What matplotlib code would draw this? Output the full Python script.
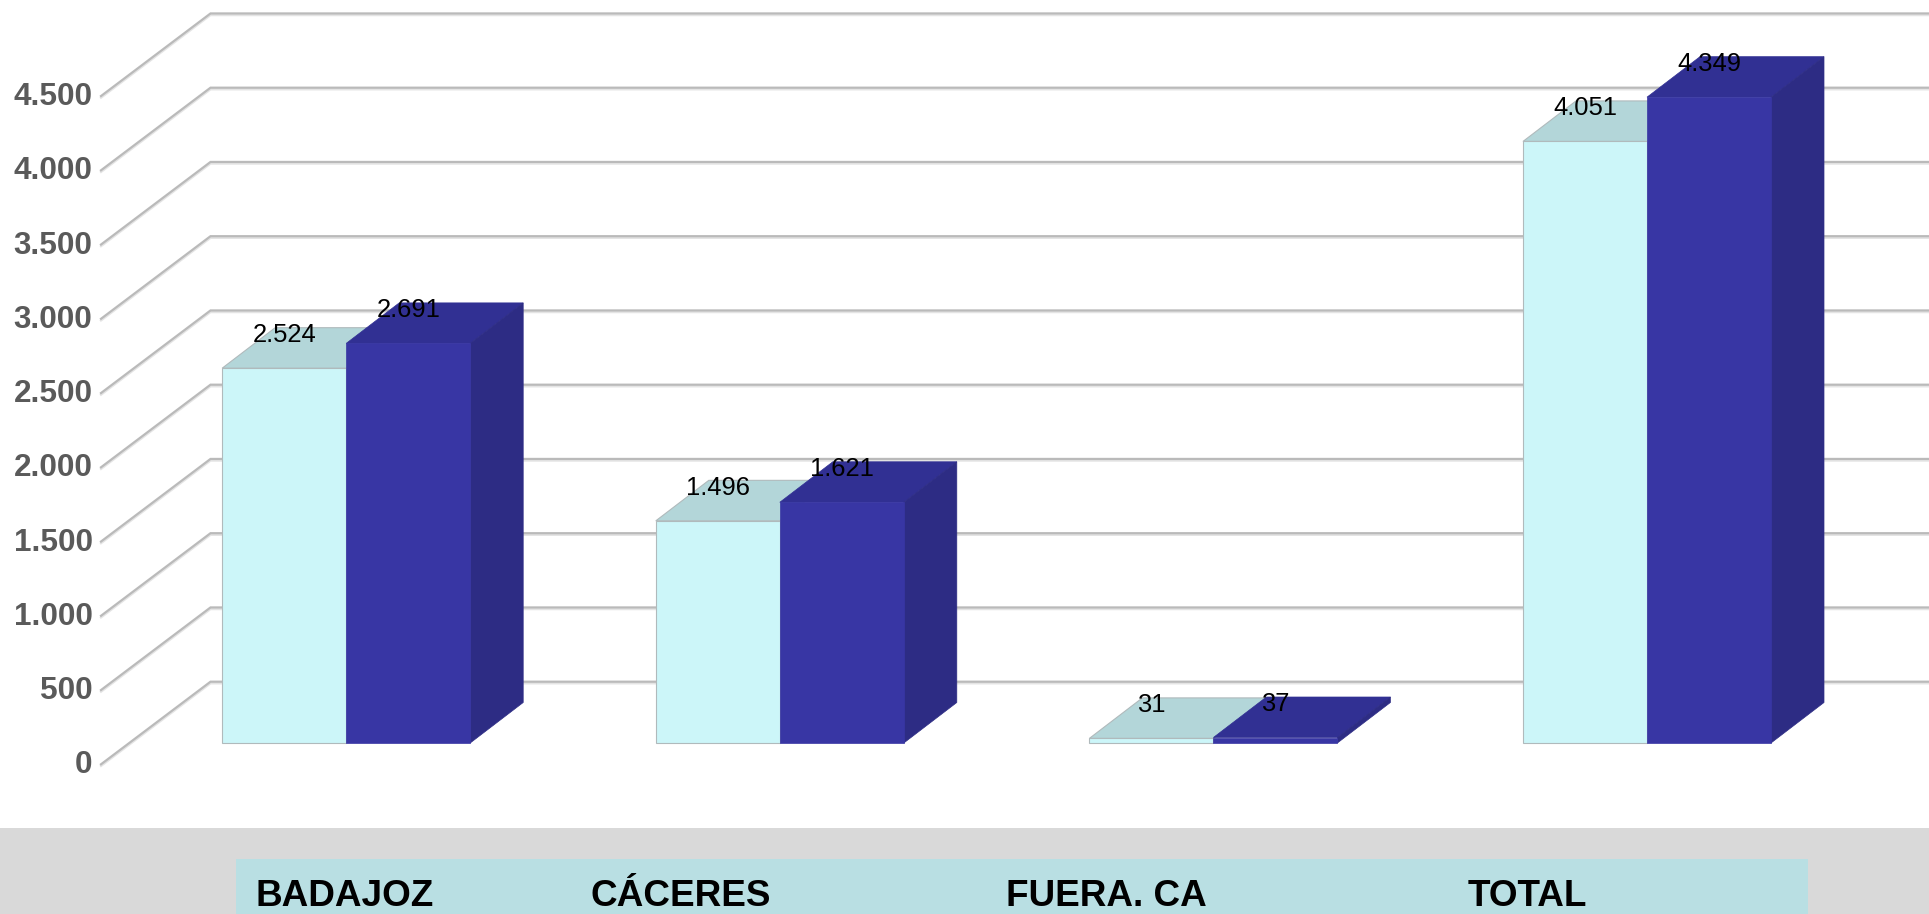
import matplotlib
matplotlib.use('Agg')
import matplotlib.pyplot as plt
import matplotlib.patheffects as pe
from matplotlib.patches import Rectangle

plt.rcParams['font.family'] = ['Liberation Sans', 'DejaVu Sans']

categories = ['BADAJOZ', 'CÁCERES', 'FUERA. CA', 'TOTAL']
series_a = [2524, 1496, 31, 4051]
series_b = [2691, 1621, 37, 4349]
labels_a = ['2.524', '1.496', '31', '4.051']
labels_b = ['2.691', '1.621', '37', '4.349']
y_ticks = [0, 500, 1000, 1500, 2000, 2500, 3000, 3500, 4000, 4500]
y_tick_labels = ['0', '500', '1.000', '1.500', '2.000', '2.500', '3.000', '3.500', '4.000', '4.500']

W, H = 1929, 914
px_x = 433.6     # pixels per category
px_y = 0.1485    # pixels per unit
x0 = 346.2       # pixel of first category centre
y0 = 743.0       # pixel of value 0 at the bar front

bar_w = 124.0 / px_x
bar_dx = 53.0 / px_x
bar_dy = 40.5 / px_y
wall_x_front = (101.0 - x0) / px_x
wall_x_back = (210.5 - x0) / px_x
wall_front_shift = -21.3 / px_y
wall_back_shift = 61.3 / px_y
label_shift = 33.2 / px_y
tick_label_shift = 2.4 / px_y

light_front, light_top = '#ccf6f9', '#b3d6d9'
dark_front, dark_top, dark_side = '#3836a4', '#313093', '#2d2c84'
grid_color = '#bababa'
edge_color = '#b0babc'

fig = plt.figure(figsize=(W / 100, H / 100), dpi=100, facecolor='white')
ax = fig.add_axes([0, 0, 1, 1])
ax.set_xlim((0 - x0) / px_x, (W - x0) / px_x)
ax.set_ylim((y0 - H) / px_y, y0 / px_y)
ax.set_axis_off()

# back wall grid lines with the slanted bit on the left
shadow = [pe.SimpleLineShadow(offset=(0, -1.2), shadow_color='#e4e4e4', alpha=1), pe.Normal()]
x_right = (W - x0) / px_x
for v, lab in zip(y_ticks, y_tick_labels):
    ax.plot([wall_x_front, wall_x_back, x_right],
            [v + wall_front_shift, v + wall_back_shift, v + wall_back_shift],
            color=grid_color, lw=1.6, zorder=1, path_effects=shadow, solid_joinstyle='miter')
    ax.text((92.5 - x0) / px_x, v + wall_front_shift + tick_label_shift, lab, ha='right', va='center_baseline',
            fontsize=22.7, fontweight='bold', color='#5a5a5a', zorder=5)

for i in range(len(categories)):
    left = i - bar_w
    mid = i
    right = i + bar_w
    a, b = series_a[i], series_b[i]

    # light bar
    ax.fill([left, mid, mid + bar_dx, left + bar_dx], [a, a, a + bar_dy, a + bar_dy],
            facecolor=light_top, edgecolor=edge_color, lw=0.8, zorder=2)
    ax.bar(left, a, width=bar_w, align='edge', color=light_front, edgecolor=edge_color, lw=0.8, zorder=2)

    # dark bar
    ax.fill([mid, right, right + bar_dx, mid + bar_dx], [b, b, b + bar_dy, b + bar_dy],
            facecolor=dark_top, edgecolor=dark_top, lw=0.5, zorder=3)
    ax.fill([right, right + bar_dx, right + bar_dx, right], [0, bar_dy, b + bar_dy, b],
            facecolor=dark_side, edgecolor=dark_side, lw=0.5, zorder=3)
    ax.bar(mid, b, width=bar_w, align='edge', color=dark_front, edgecolor=dark_front, lw=0.5, zorder=3)

    ax.text(i - bar_w / 2, a + label_shift, labels_a[i], ha='center', va='center',
            fontsize=18.4, color='black', zorder=6)
    ax.text(i + bar_w / 2, b + label_shift, labels_b[i], ha='center', va='center',
            fontsize=18.4, color='black', zorder=6)

# bottom band with the category strip
fig.add_artist(Rectangle((0, 0), 1, (H - 828) / H, transform=fig.transFigure,
                         facecolor='#d9d9d9', edgecolor='none'))
fig.add_artist(Rectangle((235.6 / W, 0), (1807.6 - 235.6) / W, (H - 859) / H, transform=fig.transFigure,
                         facecolor='#b9dfe3', edgecolor='none'))
cat_x = [255.5, 591, 1005.5, 1468]
for x, c in zip(cat_x, categories):
    fig.text(x / W, (H - 906) / H, c, ha='left', va='baseline', fontsize=26.6,
             fontweight='bold', color='black')

fig.savefig('out.png', dpi=100)
